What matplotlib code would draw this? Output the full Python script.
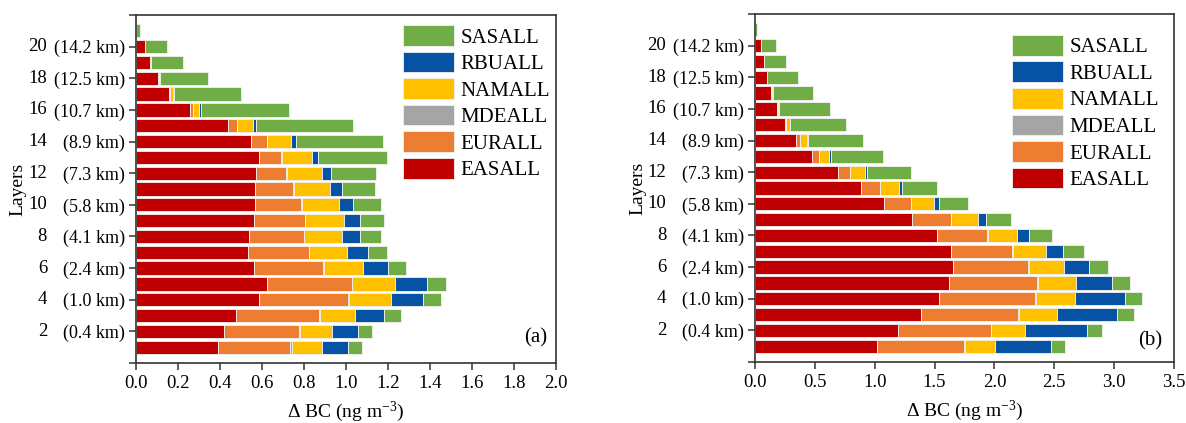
import numpy as np
import matplotlib
matplotlib.use("Agg")
import matplotlib.pyplot as plt
from matplotlib.transforms import ScaledTranslation

plt.rcParams['font.family'] = ['Liberation Serif', 'DejaVu Serif']
plt.rcParams['mathtext.fontset'] = 'custom'
plt.rcParams['mathtext.rm'] = 'Liberation Serif'
plt.rcParams['mathtext.it'] = 'Liberation Serif:italic'

# model layers 1..21 (bottom to top)
layers = np.arange(1, 22)

sources = ['EASALL', 'EURALL', 'MDEALL', 'NAMALL', 'RBUALL', 'SASALL']
colors = ['#C00000', '#ED7D31', '#A5A5A5', '#FFC000', '#0653A6', '#70AD47']

# contribution of each source region to delta BC, panel (a)
eas_a = [0.392, 0.419, 0.476, 0.584, 0.622, 0.560, 0.535, 0.540, 0.562, 0.567, 0.565,
         0.570, 0.587, 0.546, 0.440, 0.257, 0.159, 0.106, 0.067, 0.043, 0.002]
eur_a = [0.343, 0.359, 0.397, 0.427, 0.405, 0.330, 0.287, 0.260, 0.241, 0.217, 0.184,
         0.146, 0.105, 0.076, 0.042, 0.014, 0.004, 0.004, 0.003, 0.001, 0.0]
mde_a = [0.006, 0.005, 0.003, 0.005, 0.003, 0.003, 0.003, 0.002, 0.003, 0.005, 0.003,
         0.005, 0.003, 0.002, 0.001, 0.001, 0.0, 0.0, 0.0, 0.0, 0.0]
nam_a = [0.145, 0.150, 0.169, 0.198, 0.205, 0.190, 0.181, 0.179, 0.183, 0.178, 0.173,
         0.166, 0.142, 0.114, 0.073, 0.030, 0.013, 0.004, 0.002, 0.001, 0.0]
rbu_a = [0.122, 0.122, 0.138, 0.151, 0.149, 0.115, 0.100, 0.087, 0.079, 0.068, 0.057,
         0.043, 0.031, 0.022, 0.015, 0.008, 0.003, 0.001, 0.0, 0.0, 0.0]
sas_a = [0.070, 0.070, 0.077, 0.089, 0.092, 0.088, 0.091, 0.099, 0.113, 0.130, 0.158,
         0.213, 0.329, 0.418, 0.462, 0.420, 0.320, 0.229, 0.153, 0.101, 0.015]

# panel (b)
eas_b = [1.017, 1.195, 1.384, 1.534, 1.618, 1.654, 1.637, 1.520, 1.314, 1.081, 0.885,
         0.693, 0.479, 0.345, 0.248, 0.181, 0.137, 0.100, 0.072, 0.050, 0.002]
eur_b = [0.730, 0.774, 0.811, 0.808, 0.741, 0.627, 0.513, 0.418, 0.323, 0.222, 0.156,
         0.101, 0.056, 0.031, 0.007, 0.007, 0.004, 0.002, 0.002, 0.001, 0.0]
mde_b = [0.008, 0.006, 0.008, 0.008, 0.008, 0.008, 0.008, 0.006, 0.004, 0.004, 0.003,
         0.002, 0.002, 0.001, 0.001, 0.0, 0.0, 0.0, 0.0, 0.0, 0.0]
nam_b = [0.248, 0.283, 0.317, 0.326, 0.312, 0.292, 0.273, 0.247, 0.222, 0.188, 0.159,
         0.123, 0.081, 0.057, 0.034, 0.012, 0.007, 0.002, 0.001, 0.001, 0.0]
rbu_b = [0.470, 0.516, 0.504, 0.412, 0.307, 0.209, 0.142, 0.101, 0.067, 0.042, 0.022,
         0.014, 0.014, 0.011, 0.005, 0.002, 0.001, 0.0, 0.0, 0.0, 0.0]
sas_b = [0.117, 0.128, 0.140, 0.148, 0.150, 0.159, 0.173, 0.189, 0.209, 0.245, 0.298,
         0.370, 0.440, 0.460, 0.465, 0.425, 0.338, 0.258, 0.184, 0.126, 0.012]

tick_layers = [2, 4, 6, 8, 10, 12, 14, 16, 18, 20]
tick_heights = ['(0.4 km)', '(1.0 km)', '(2.4 km)', '(4.1 km)', '(5.8 km)',
                '(7.3 km)', '(8.9 km)', '(10.7 km)', '(12.5 km)', '(14.2 km)']


def draw_panel(ax, series, xmax, xstep, tag, leg_anchor, tag_pos):
    left = np.zeros(len(layers))
    for name, vals, col in zip(sources, series, colors):
        vals = np.asarray(vals)
        ax.barh(layers, vals, left=left, height=0.84, color=col,
                edgecolor='#f2f2f2', linewidth=0.6, label=name)
        left += vals

    ax.set_xlim(0, xmax)
    ax.set_xticks(np.arange(0, xmax + 1e-9, xstep))
    ax.xaxis.set_major_formatter(plt.FormatStrFormatter('%.1f'))
    ax.set_ylim(0, 22)
    ax.set_yticks([0] + tick_layers + [22])
    ax.set_yticklabels([''] + tick_heights + [''])
    for lay in tick_layers:
        ax.text(-0.212, lay, str(lay), transform=ax.get_yaxis_transform(),
                ha='right', va='center', fontsize=13.5)

    # first height label sits a bit below its tick
    lab = ax.get_yticklabels()[1]
    lab.set_transform(lab.get_transform() + ScaledTranslation(0, -6 / 72, ax.figure.dpi_scale_trans))

    ax.tick_params(axis='both', direction='out', length=5, width=1.1, labelsize=13.5,
                   color='#333333', top=False, right=False)
    ax.tick_params(axis='y', labelsize=13, pad=3)
    for sp in ax.spines.values():
        sp.set_linewidth(1.2)
        sp.set_color('#333333')

    ax.set_xlabel(r'$\Delta$ BC (ng m$^{-3}$)', fontsize=14, labelpad=6)
    ax.set_ylabel('Layers', fontsize=14)
    ax.yaxis.set_label_coords(-0.26, 0.5)

    h, l = ax.get_legend_handles_labels()
    ax.legend(h[::-1], l[::-1], loc='upper left', bbox_to_anchor=leg_anchor,
              frameon=False, fontsize=15, handlelength=2.45, handleheight=1.15,
              labelspacing=0.2, handletextpad=0.3, borderpad=0, borderaxespad=0)
    ax.text(tag_pos[0], tag_pos[1], tag, transform=ax.transAxes, ha='right',
            va='center', fontsize=15)


fig = plt.figure(figsize=(11.86, 4.23), dpi=100)
ax1 = fig.add_axes([0.1147, 0.1418, 0.3541, 0.8227])
ax2 = fig.add_axes([0.6366, 0.1442, 0.3533, 0.8227])

draw_panel(ax1, [eas_a, eur_a, mde_a, nam_a, rbu_a, sas_a], 2.0, 0.2, '(a)',
           (0.636, 0.971), (0.979, 0.072))
draw_panel(ax2, [eas_b, eur_b, mde_b, nam_b, rbu_b, sas_b], 3.5, 0.5, '(b)',
           (0.613, 0.940), (0.971, 0.060))

fig.savefig('out.png', dpi=100)
